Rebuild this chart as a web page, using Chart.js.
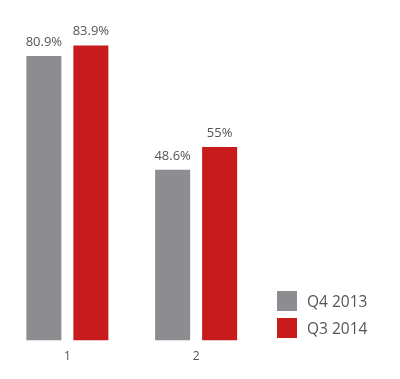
<!DOCTYPE html>
<html><head><meta charset="utf-8">
<script src="https://cdn.jsdelivr.net/npm/chart.js@4"></script>
<style>
html,body{margin:0;padding:0;background:#fff;}
#wrap{position:relative;width:400px;height:379px;}
#legend{position:absolute;left:277px;top:291px;font-family:"Open Sans";font-size:15.5px;color:#555;}
.item{display:flex;align-items:center;height:20px;margin-bottom:7px;}
.sw{width:20px;height:20px;margin-right:10px;}
</style></head>
<body><div id="wrap"><canvas id="c" width="400" height="379"></canvas><div id="legend"></div></div>
<script>
const categories = ["1", "2"];
const seriesNames = ["Q4 2013", "Q3 2014"];
const q4_2013 = [80.9, 48.6];
const q3_2014 = [83.9, 55];
const colors = ["#8d8c91", "#c81b1c"];

const labelPlugin = {
  id: 'vals',
  afterDatasetsDraw(chart) {
    const ctx = chart.ctx;
    ctx.save();
    ctx.font = '13px "Open Sans"';
    ctx.fillStyle = '#555';
    ctx.textAlign = 'center';
    ctx.textBaseline = 'alphabetic';
    chart.data.datasets.forEach((ds, i) => {
      chart.getDatasetMeta(i).data.forEach((bar, j) => {
        ctx.fillText(ds.data[j] + '%', bar.x, bar.y - 10);
      });
    });
    ctx.restore();
  }
};

new Chart(document.getElementById('c'), {
  type: 'bar',
  data: {
    labels: categories,
    datasets: [
      { label: seriesNames[0], data: q4_2013, backgroundColor: colors[0] },
      { label: seriesNames[1], data: q3_2014, backgroundColor: colors[1] }
    ]
  },
  options: {
    responsive: false,
    animation: false,
    layout: { padding: { left: 3, right: 139.5, top: 24, bottom: 14 } },
    plugins: { legend: { display: false }, tooltip: { enabled: false } },
    datasets: { bar: { categoryPercentage: 0.73, barPercentage: 0.745 } },
    scales: {
      x: { grid: { display: false }, border: { display: false },
           ticks: { color: '#555', font: { family: 'Open Sans', size: 12 }, padding: 1 } },
      y: { display: false, min: 0, max: 90 }
    }
  },
  plugins: [labelPlugin]
});

const lg = document.getElementById('legend');
seriesNames.forEach((n, i) => {
  const d = document.createElement('div'); d.className = 'item';
  const s = document.createElement('div'); s.className = 'sw'; s.style.background = colors[i];
  const t = document.createElement('span'); t.textContent = n;
  d.appendChild(s); d.appendChild(t); lg.appendChild(d);
});
</script></body></html>
